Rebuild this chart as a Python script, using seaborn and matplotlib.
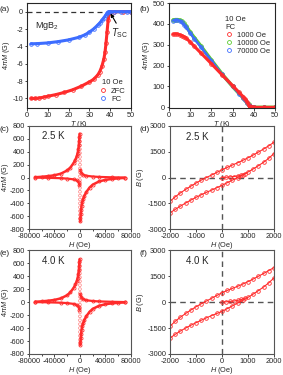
import matplotlib
matplotlib.use("Agg")
import matplotlib.pyplot as plt
from matplotlib.lines import Line2D
import seaborn as sns

# -----------------------------
# Data
# -----------------------------
# (a) MgB2, 10 Oe, ZFC / FC
T_zfc = [2, 4, 6, 8, 10, 14, 18, 22, 26, 30, 32, 34, 35, 36, 37, 37.5, 38, 38.5, 39, 39.5, 40, 42, 46, 50]
M_zfc = [-10.0, -10.0, -9.95, -9.85, -9.75, -9.55, -9.3, -9.0, -8.6, -8.1, -7.8, -7.3, -6.9, -6.3,
         -5.4, -4.7, -3.6, -2.3, -1.0, -0.2, 0.0, 0.0, 0.0, 0.0]
T_fc = [2, 5, 10, 15, 20, 25, 28, 30, 32, 34, 35, 36, 37, 38, 38.5, 39, 39.5, 40, 42, 45, 48, 50]
M_fc = [-3.7, -3.68, -3.6, -3.45, -3.25, -2.95, -2.65, -2.35, -2.0, -1.55, -1.3, -1.0, -0.68, -0.35,
        -0.2, -0.07, 0.0, 0.0, 0.0, 0.0, 0.0, 0.0]

# (b) FC curves at three fields
T_b = [2, 3, 4, 5, 6, 7, 8, 10, 12, 15, 20, 25, 30, 33, 35, 36, 37, 37.5, 38, 38.5, 39, 40, 45, 50]
M_1000 = [350, 352, 351, 348, 344, 339, 333, 313, 292, 261, 209, 156, 104, 72, 51, 40, 25, 12, 3, 0, 0, 0, 0, 0]
M_10000 = [418, 420, 420, 418, 412, 402, 390, 360, 333, 294, 226, 160, 100, 67, 45, 34, 22, 14, 6, 2, 0, 0, 0, 0]
M_70000 = [416, 418, 418, 415, 408, 397, 385, 356, 328, 290, 224, 158, 100, 66, 44, 33, 21, 13, 5, 1, 0, 0, 0, 0]

# (c) M(H) loop at 2.5 K
H_c_neg = [-70000, -60000, -50000, -40000, -30000, -20000, -15000, -10000, -7000, -5000, -3500, -2500, -1800, -1200, -800, -500]
M_c_neg = [5, 12, 22, 35, 60, 110, 155, 225, 280, 330, 385, 440, 500, 570, 630, 680]
H_c_pos = [70000, 60000, 50000, 40000, 30000, 20000, 15000, 10000, 7000, 5000, 3500, 2500, 1800, 1200, 800, 500]
M_c_pos = [-5, -12, -22, -35, -60, -110, -155, -225, -280, -330, -385, -440, -500, -570, -630, -680]
H_c_tr_pos = [70000, 50000, 30000, 20000, 10000, 5000, 2000, 800]
M_c_tr_pos = [0, 4, 10, 16, 28, 45, 75, 120]
H_c_tr_neg = [-70000, -50000, -30000, -20000, -10000, -5000, -2000, -800]
M_c_tr_neg = [0, -4, -10, -16, -28, -45, -75, -120]
M_sweep = [-640, -580, -520, -460, -400, -340, -280, -220, -160, -100, -40, 20, 80, 140, 200, 260, 320, 380, 440, 500, 560, 620]
H_sweep = [0] * len(M_sweep)

# (e) M(H) loop at 4.0 K
H_e_neg = [-70000, -60000, -50000, -40000, -30000, -20000, -15000, -10000, -7000, -5000, -3500, -2500, -1800, -1200, -800, -500]
M_e_neg = [5, 11, 20, 33, 57, 105, 150, 218, 272, 322, 375, 430, 490, 560, 615, 660]
H_e_pos = [70000, 60000, 50000, 40000, 30000, 20000, 15000, 10000, 7000, 5000, 3500, 2500, 1800, 1200, 800, 500]
M_e_pos = [-5, -11, -20, -33, -57, -105, -150, -218, -272, -322, -375, -430, -490, -560, -615, -660]
H_e_tr_pos = [70000, 50000, 30000, 20000, 10000, 5000, 2000, 800]
M_e_tr_pos = [0, 4, 10, 16, 28, 45, 75, 120]
H_e_tr_neg = [-70000, -50000, -30000, -20000, -10000, -5000, -2000, -800]
M_e_tr_neg = [0, -4, -10, -16, -28, -45, -75, -120]

# (d) B(H) at 2.5 K
H_loop = [2000, 1800, 1600, 1400, 1200, 1000, 800, 600, 400, 200, 0,
          -200, -400, -600, -800, -1000, -1200, -1400, -1600, -1800, -2000]
B_d_down = [2050, 1850, 1660, 1480, 1310, 1150, 1000, 860, 730, 590, 450,
            300, 150, 0, -150, -320, -500, -690, -890, -1120, -1380]
B_d_up = [1400, 1120, 890, 690, 500, 320, 150, 0, -150, -300, -450,
          -590, -730, -860, -1000, -1150, -1310, -1480, -1660, -1850, -2050]
H_virgin = [0, 150, 300, 450, 600, 750, 900]
B_d_virgin = [0, 15, 35, 60, 95, 140, 230]

# (f) B(H) at 4.0 K
B_f_down = [1990, 1820, 1650, 1490, 1330, 1180, 1040, 910, 790, 670, 540,
            380, 220, 60, -100, -270, -460, -660, -870, -1110, -1390]
B_f_up = [1390, 1110, 870, 660, 460, 270, 100, -60, -220, -380, -540,
          -660, -780, -910, -1050, -1190, -1340, -1500, -1670, -1860, -2080]
B_f_virgin = [0, 15, 35, 60, 95, 150, 250]

RED = "#ff2b2b"
BLUE = "#3d6dff"
GREEN = "#5acb2e"

# -----------------------------
# Style
# -----------------------------
sns.set_style("ticks")
plt.rcParams["font.family"] = ["Liberation Sans", "DejaVu Sans"]
plt.rcParams["mathtext.fontset"] = "custom"
plt.rcParams["mathtext.rm"] = "Liberation Sans"
plt.rcParams["mathtext.it"] = "Liberation Sans:italic"
plt.rcParams["axes.unicode_minus"] = False
plt.rcParams["font.size"] = 5.3
plt.rcParams["axes.linewidth"] = 0.8
plt.rcParams["xtick.major.size"] = 1.8
plt.rcParams["ytick.major.size"] = 1.8
plt.rcParams["xtick.minor.size"] = 1.3
plt.rcParams["xtick.major.width"] = 0.6
plt.rcParams["ytick.major.width"] = 0.6
plt.rcParams["xtick.major.pad"] = 1.0
plt.rcParams["ytick.major.pad"] = 1.0

fig = plt.figure(figsize=(2.83, 3.75), dpi=100)
ax_a = fig.add_axes([0.095, 0.712, 0.368, 0.28])
ax_b = fig.add_axes([0.597, 0.712, 0.375, 0.28])
ax_c = fig.add_axes([0.102, 0.389, 0.361, 0.275])
ax_d = fig.add_axes([0.601, 0.389, 0.367, 0.275])
ax_e = fig.add_axes([0.102, 0.056, 0.361, 0.277])
ax_f = fig.add_axes([0.601, 0.056, 0.367, 0.277])


def band(ax, x, y, color, lw=2.2, ms=2.6):
    sns.lineplot(x=x, y=y, ax=ax, sort=False, estimator=None, color=color, lw=lw,
                 marker="o", markersize=ms, markerfacecolor="none", markeredgecolor=color,
                 markeredgewidth=0.6)


def circle(color):
    return Line2D([], [], ls="none", marker="o", markersize=2.8, markerfacecolor="none",
                  markeredgecolor=color, markeredgewidth=0.6)


# -----------------------------
# (a)
# -----------------------------
ax_a.axhline(0, color="#333333", ls=(0, (4, 3)), lw=0.9)
band(ax_a, T_zfc, M_zfc, RED)
band(ax_a, T_fc, M_fc, BLUE)
ax_a.set_xlim(0, 50)
ax_a.set_ylim(-11.1, 1.0)
ax_a.set_xticks([0, 10, 20, 30, 40, 50])
ax_a.set_yticks([-10, -8, -6, -4, -2, 0])
ax_a.set_xlabel("$T$ (K)", labelpad=0)
ax_a.set_ylabel(r"4$\pi M$ (G)", labelpad=0)
ax_a.text(4, -1.6, "MgB$_2$", fontsize=6.5, va="center")
ax_a.annotate("$T_{\\rm SC}$", xy=(40.2, -0.2), xytext=(40.5, -2.5), fontsize=7,
              va="center", arrowprops=dict(arrowstyle="-|>", color="black", lw=0.8,
                                           mutation_scale=5, shrinkA=0, shrinkB=0,
                                           relpos=(0.4, 1.0)))
ax_a.legend(handles=[circle(RED), circle(BLUE)], labels=["ZFC", "FC"], title="10 Oe",
            loc="lower right", frameon=False, fontsize=5.5, title_fontsize=5.5,
            handlelength=1.0, handletextpad=0.5, labelspacing=0.1, borderaxespad=0.3)

# -----------------------------
# (b)
# -----------------------------
band(ax_b, T_b, M_10000, GREEN, lw=2.6)
band(ax_b, T_b, M_70000, BLUE, lw=1.8)
band(ax_b, T_b, M_1000, RED)
ax_b.set_xlim(0, 50)
ax_b.set_ylim(-3, 500)
ax_b.set_xticks([0, 10, 20, 30, 40, 50])
ax_b.set_yticks([0, 100, 200, 300, 400, 500])
ax_b.set_xlabel("$T$ (K)", labelpad=0)
ax_b.set_ylabel(r"4$\pi M$ (G)", labelpad=0.5)
leg_b = ax_b.legend(handles=[circle(RED), circle(GREEN), circle(BLUE)],
                    labels=["1000 Oe", "10000 Oe", "70000 Oe"], title="10 Oe\nFC",
                    loc="upper right", bbox_to_anchor=(1.0, 0.93), frameon=False,
                    fontsize=5.5, title_fontsize=5.5, handlelength=1.0, handletextpad=0.5,
                    labelspacing=0.1, borderaxespad=0.3)
leg_b._legend_box.align = "left"


# -----------------------------
# (c), (e) M(H) loops
# -----------------------------
def mh_panel(ax, hn, mn, hp, mp, htp, mtp, htn, mtn, label):
    band(ax, hn, mn, RED, lw=1.8, ms=2.2)
    band(ax, hp, mp, RED, lw=1.8, ms=2.2)
    band(ax, htp, mtp, RED, lw=1.6, ms=2.2)
    band(ax, htn, mtn, RED, lw=1.6, ms=2.2)
    sns.scatterplot(x=H_sweep, y=M_sweep, ax=ax, color=RED, s=4, marker="o", alpha=0.6,
                    edgecolor=RED, linewidth=0.5, facecolor="none")
    ax.set_xlim(-80000, 80000)
    ax.set_ylim(-800, 800)
    ax.set_xticks([-80000, -40000, 0, 40000, 80000])
    ax.set_xticks([-60000, -20000, 20000, 60000], minor=True)
    ax.set_yticks(list(range(-800, 801, 200)))
    ax.set_xlabel("$H$ (Oe)", labelpad=0)
    ax.set_ylabel(r"4$\pi M$ (G)", labelpad=-0.3)
    ax.text(-60000, 640, label, fontsize=7, va="center")
    for s in ax.spines.values():
        s.set_color("#555555")


mh_panel(ax_c, H_c_neg, M_c_neg, H_c_pos, M_c_pos, H_c_tr_pos, M_c_tr_pos, H_c_tr_neg, M_c_tr_neg, "2.5 K")
mh_panel(ax_e, H_e_neg, M_e_neg, H_e_pos, M_e_pos, H_e_tr_pos, M_e_tr_pos, H_e_tr_neg, M_e_tr_neg, "4.0 K")


# -----------------------------
# (d), (f) B(H) loops
# -----------------------------
def bh_panel(ax, bdown, bup, bvirgin, label):
    ax.axhline(0, color="#555555", ls=(0, (4, 3)), lw=1.0)
    ax.axvline(0, color="#555555", ls=(0, (4, 3)), lw=1.0)
    band(ax, H_loop, bdown, RED, lw=0.8, ms=2.6)
    band(ax, H_loop, bup, RED, lw=0.8, ms=2.6)
    band(ax, H_virgin, bvirgin, RED, lw=0.8, ms=2.6)
    ax.set_xlim(-2000, 2000)
    ax.set_ylim(-3000, 3000)
    ax.set_xticks([-2000, -1000, 0, 1000, 2000])
    ax.set_yticks([-3000, -1500, 0, 1500, 3000])
    ax.set_xlabel("$H$ (Oe)", labelpad=0)
    ax.set_ylabel("$B$ (G)", labelpad=0.5)
    ax.text(-1400, 2380, label, fontsize=7, va="center")
    for s in ax.spines.values():
        s.set_color("#555555")


bh_panel(ax_d, B_d_down, B_d_up, B_d_virgin, "2.5 K")
bh_panel(ax_f, B_f_down, B_f_up, B_f_virgin, "4.0 K")

# panel letters
for x, y, lab in [(0.0, 0.975, "(a)"), (0.493, 0.975, "(b)"),
                  (0.0, 0.655, "(c)"), (0.493, 0.655, "(d)"),
                  (0.0, 0.325, "(e)"), (0.493, 0.325, "(f)")]:
    fig.text(x, y, lab, fontsize=6, va="center")

fig.savefig("out.png", dpi=100)
plt.close(fig)
